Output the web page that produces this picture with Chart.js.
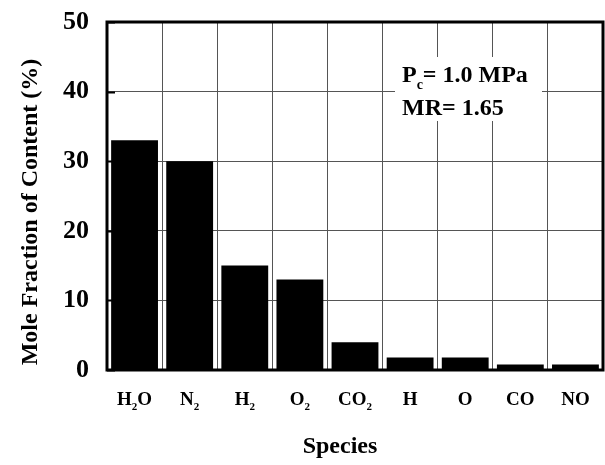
<!DOCTYPE html>
<html>
<head>
<meta charset="utf-8">
<script src="https://cdn.jsdelivr.net/npm/chart.js@4/dist/chart.umd.min.js"></script>
<style>
  html, body { margin: 0; padding: 0; background: #fff; }
  #wrap { width: 605px; height: 465px; }
</style>
</head>
<body>
<div id="wrap"><canvas id="c" width="605" height="465"></canvas></div>
<script>
// Species in the combustion products (digits are drawn as subscripts)
const species = ['H2O', 'N2', 'H2', 'O2', 'CO2', 'H', 'O', 'CO', 'NO'];
// Mole fraction of each species, %
const moleFraction = [33, 30, 15, 13, 4, 1.8, 1.8, 0.8, 0.8];
const yTicks = [0, 10, 20, 30, 40, 50];

const SERIF = "'Liberation Serif', 'Times New Roman', serif";

// Draw a formula such as "CO2" with the digits lowered and smaller
function drawFormula(ctx, text, cx, baseline, size) {
  const parts = text.match(/[A-Za-z]+|\d+/g);
  const big = 'bold ' + size + 'px ' + SERIF;
  const small = 'bold ' + Math.round(size * 0.6) + 'px ' + SERIF;
  let total = 0;
  parts.forEach(p => { ctx.font = /\d/.test(p) ? small : big; total += ctx.measureText(p).width; });
  let x = cx - total / 2;
  parts.forEach(p => {
    const sub = /\d/.test(p);
    ctx.font = sub ? small : big;
    ctx.fillText(p, x, sub ? baseline + size * 0.28 : baseline);
    x += ctx.measureText(p).width;
  });
}

const decorations = {
  id: 'decorations',
  beforeDatasetsDraw(chart) {
    // white panel behind the condition note
    const ctx = chart.ctx;
    ctx.save();
    ctx.fillStyle = '#fff';
    ctx.fillRect(395, 57, 147, 64);
    ctx.restore();
  },
  afterDraw(chart) {
    const ctx = chart.ctx;
    const a = chart.chartArea;
    const xs = chart.scales.x;
    const ys = chart.scales.y;
    ctx.save();
    // frame
    ctx.strokeStyle = '#000';
    ctx.lineWidth = 3;
    ctx.strokeRect(a.left, a.top, a.right - a.left, a.bottom - a.top);
    // short inward ticks on the value axis
    ctx.lineWidth = 2;
    yTicks.forEach(v => {
      const y = Math.round(ys.getPixelForValue(v)) + 0.5;
      ctx.beginPath();
      ctx.moveTo(a.left, y);
      ctx.lineTo(a.left + 8, y);
      ctx.stroke();
    });

    ctx.fillStyle = '#000';
    ctx.textBaseline = 'alphabetic';
    ctx.textAlign = 'left';
    // category labels
    species.forEach((s, i) => {
      drawFormula(ctx, s, xs.getPixelForValue(i), 405, 19);
    });

    // condition note
    ctx.font = 'bold 24px ' + SERIF;
    ctx.fillText('P', 402, 82);
    let w = ctx.measureText('P').width;
    ctx.font = 'bold 14px ' + SERIF;
    ctx.fillText('c', 402 + w, 89);
    w += ctx.measureText('c').width;
    ctx.font = 'bold 24px ' + SERIF;
    ctx.fillText('= 1.0 MPa', 402 + w, 82);
    ctx.fillText('MR= 1.65', 402, 115);

    // axis titles
    ctx.textAlign = 'center';
    ctx.font = 'bold 24px ' + SERIF;
    ctx.fillText('Species', 340, 453);
    ctx.translate(37, 212);
    ctx.rotate(-Math.PI / 2);
    ctx.fillText('Mole Fraction of Content (%)', 0, 0);
    ctx.restore();
  }
};

new Chart(document.getElementById('c'), {
  type: 'bar',
  data: {
    labels: species,
    datasets: [{
      data: moleFraction,
      backgroundColor: '#000',
      borderWidth: 0,
      barPercentage: 0.85,
      categoryPercentage: 1.0
    }]
  },
  options: {
    responsive: false,
    animation: false,
    devicePixelRatio: 1,
    layout: { padding: { top: 22, right: 2, left: 0, bottom: 0 } },
    plugins: { legend: { display: false }, tooltip: { enabled: false } },
    scales: {
      x: {
        offset: true,
        grid: { display: true, offset: true, color: '#555', lineWidth: 1, borderDash: [1, 2], drawTicks: false },
        border: { display: false },
        ticks: { display: false },
        afterFit(scale) { scale.height = 95; scale.paddingLeft = 0; scale.paddingRight = 0; }
      },
      y: {
        min: 0, max: 50,
        afterBuildTicks(scale) { scale.ticks = yTicks.map(v => ({ value: v })); },
        grid: { color: '#555', lineWidth: 1, borderDash: [1, 2], drawTicks: false },
        border: { display: false },
        ticks: {
          color: '#000',
          padding: 18,
          font: { family: SERIF, size: 26, weight: 'bold' }
        },
        afterFit(scale) { scale.width = 107; scale.paddingTop = 0; scale.paddingBottom = 0; }
      }
    }
  },
  plugins: [decorations]
});
</script>
</body>
</html>
